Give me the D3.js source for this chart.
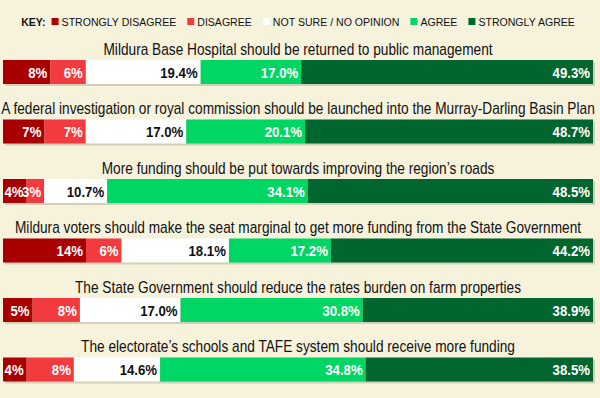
<!DOCTYPE html>
<html><head><meta charset="utf-8">
<script src="https://cdn.jsdelivr.net/npm/d3@7"></script>
<style>
html,body{margin:0;padding:0;background:#f6f2dc;}
svg{display:block;}
</style></head>
<body>
<svg id="chart" width="600" height="398"></svg>
<script>
const questions = [
  "Mildura Base Hospital should be returned to public management",
  "A federal investigation or royal commission should be launched into the Murray-Darling Basin Plan",
  "More funding should be put towards improving the region\u2019s roads",
  "Mildura voters should make the seat marginal to get more funding from the State Government",
  "The State Government should reduce the rates burden on farm properties",
  "The electorate\u2019s schools and TAFE system should receive more funding"
];
const categories = ["STRONGLY DISAGREE","DISAGREE","NOT SURE / NO OPINION","AGREE","STRONGLY AGREE"];
const stronglyDisagree = [8, 7, 4, 14, 5, 4];
const disagree         = [6, 7, 3, 6, 8, 8];
const notSure          = [19.4, 17.0, 10.7, 18.1, 17.0, 14.6];
const agree            = [17.0, 20.1, 34.1, 17.2, 30.8, 34.8];
const stronglyAgree    = [49.3, 48.7, 48.5, 44.2, 38.9, 38.5];
const labelDecimals    = [0, 0, 1, 1, 1];

const colors = ["#a80000","#f23b3e","#ffffff","#00d663","#00652f"];
const textColors = ["#ffffff","#ffffff","#111111","#ffffff","#ffffff"];
const font = "'Liberation Sans',Arial,sans-serif";

const series = [stronglyDisagree, disagree, notSure, agree, stronglyAgree];
const rows = questions.map((q, i) => {
  const vals = series.map(s => s[i]);
  return {q, vals, total: d3.sum(vals)};
});

const svg = d3.select("#chart");
const left = 3, right = 593;
const barH = 24;

const y = d3.scaleBand().domain(d3.range(questions.length)).range([43, 400]);
const barTop = i => y(i) + 17;

function ctext(sel, x, yy, sx) {
  return sel.append("text").attr("transform", `translate(${x},${yy}) scale(${sx},1)`).attr("font-family", font);
}

// Legend
const legend = svg.append("g").attr("fill", "#111");
const LS = 0.92, LF = 11.5;
let lx = 0;
const keyT = ctext(legend, lx, 26, LS).attr("font-size", LF).attr("font-weight", "bold").text("KEY:");
lx += keyT.node().getComputedTextLength() * LS + 6;
categories.forEach((c, k) => {
  legend.append("rect").attr("x", lx).attr("y", 18).attr("width", 7).attr("height", 7).attr("fill", colors[k]);
  lx += 10;
  const t = ctext(legend, lx, 26, LS).attr("font-size", LF).text(c);
  lx += t.node().getComputedTextLength() * LS + 11;
});
lx -= 11;
legend.attr("transform", `translate(${(left + right) / 2 - lx / 2},0)`);

// Rows
rows.forEach((r, i) => {
  const g = svg.append("g");
  const top = barTop(i);
  const x = d3.scaleLinear().domain([0, r.total]).range([left, right]);
  ctext(g, (left + right) / 2, top - 5.5, 0.855)
    .attr("text-anchor", "middle").attr("font-size", 16).attr("fill", "#111")
    .text(r.q);
  g.append("rect").attr("x", left + 2).attr("y", top + 2).attr("width", right - left).attr("height", barH)
    .attr("fill", "#c9c6b3").attr("opacity", 0.8);
  let cum = 0;
  const segs = r.vals.map((v, k) => { const s = {v, k, x0: cum, x1: cum + v}; cum += v; return s; });
  g.selectAll("rect.seg").data(segs).join("rect").attr("class", "seg")
    .attr("x", d => x(d.x0)).attr("y", top)
    .attr("width", d => x(d.x1) - x(d.x0)).attr("height", barH)
    .attr("fill", d => colors[d.k]);
  segs.forEach(d => {
    ctext(g, x(d.x1) - 3, top + barH / 2 + 5.5, 0.88)
      .attr("text-anchor", "end").attr("font-weight", "bold").attr("font-size", 15)
      .attr("fill", textColors[d.k])
      .text(d3.format("." + labelDecimals[d.k] + "f")(d.v) + "%");
  });
});
</script>
</body></html>
